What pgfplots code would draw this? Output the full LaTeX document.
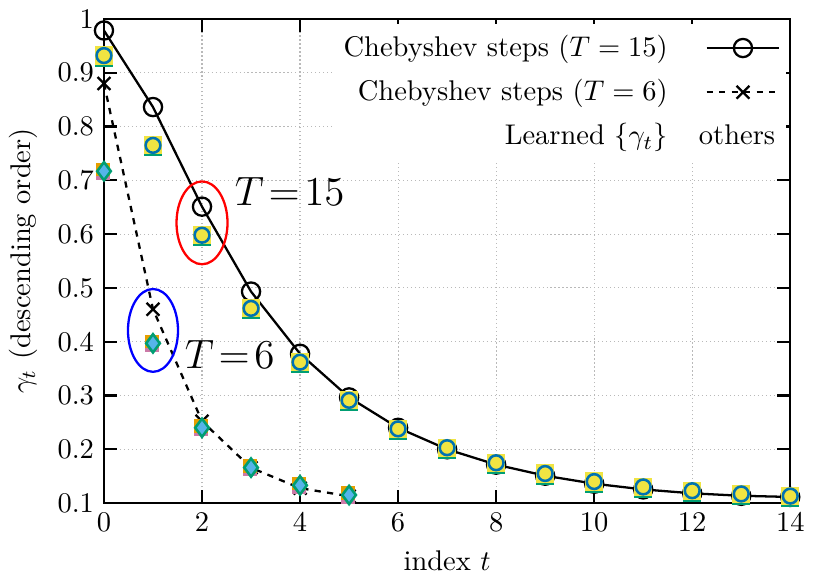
\documentclass[border=0pt]{standalone}
\usepackage{pgfplots}
\pgfplotsset{compat=1.18}
\definecolor{cyellow}{HTML}{F0E442}
\definecolor{cgreen}{HTML}{009E73}
\definecolor{cblue}{HTML}{0072B2}
\definecolor{csky}{HTML}{56B4E9}
\definecolor{corange}{HTML}{E69F00}
\definecolor{cpink}{HTML}{CC79A7}

\pgfplotstableread{
t g
0 0.97856
1 0.83628
2 0.65108
3 0.49324
4 0.37752
5 0.29647
6 0.23990
7 0.20000
8 0.17148
9 0.15090
10 0.13603
11 0.12543
12 0.11815
13 0.11358
14 0.11138
}\chebA
\pgfplotstableread{
t g
0 0.88005
1 0.46050
2 0.25222
3 0.16569
4 0.12774
5 0.11282
}\chebB
\pgfplotstableread{
t g
0 0.932
1 0.765
2 0.598
3 0.462
4 0.362
5 0.291
6 0.238
7 0.203
8 0.175
9 0.155
10 0.140
11 0.130
12 0.123
13 0.117
14 0.113
}\learnA
\pgfplotstableread{
t g
0 0.717
1 0.397
2 0.240
3 0.166
4 0.133
5 0.115
}\learnB

\begin{document}
\begin{tikzpicture}
\begin{axis}[
  scale only axis, width=241pt, height=170pt,
  xmin=0, xmax=14, ymin=0.1, ymax=1,
  xtick={0,2,4,6,8,10,12,14},
  ytick={0.1,0.2,0.3,0.4,0.5,0.6,0.7,0.8,0.9,1},
  yticklabels={0.1,0.2,0.3,0.4,0.5,0.6,0.7,0.8,0.9,1},
  grid=major,
  major grid style={densely dotted, gray!55, line width=0.4pt},
  axis line style={line width=0.8pt},
  tick style={line width=0.8pt, black},
  major tick length=4.5pt,
  xlabel={index $t$},
  ylabel={$\gamma_t$ (descending order)},
  legend cell align=right,
  legend plot pos=right,
  legend style={at={(1,1)}, anchor=north east, xshift=-1.2pt, yshift=-1.5pt,
    draw=none, fill=white, row sep=2.5pt, column sep=9pt, inner sep=2pt},
  legend image code/.code={\draw[mark repeat=2,mark phase=2]
    plot coordinates {(0cm,0cm) (0.45cm,0cm) (0.9cm,0cm)};},
]
\addplot[black, line width=0.8pt, mark=o, mark size=3.2pt, mark options={solid}]
  table[x=t, y=g] {\chebA};
\addlegendentry{Chebyshev steps ($T=15$)}
\addplot[black, line width=0.8pt, dash pattern=on 2.2pt off 2.2pt, mark=x, mark size=3.2pt, mark options={solid}]
  table[x=t, y=g] {\chebB};
\addlegendentry{Chebyshev steps ($T=6$)}
\addlegendimage{legend image code/.code={\node[anchor=west, inner sep=0pt] at (-0.1cm,0cm) {others};}}
\addlegendentry{Learned $\{\gamma_t\}$}

% learned, T=15
\addplot[only marks, mark=square*, mark size=3pt, mark options={draw=cgreen, fill=cgreen, yshift=-0.7pt}, forget plot]
  table[x=t, y=g] {\learnA};
\addplot[only marks, mark=square*, mark size=3pt, mark options={draw=cyellow, fill=cyellow}, forget plot]
  table[x=t, y=g] {\learnA};
\addplot[only marks, mark=*, mark size=2.6pt, mark options={draw=cblue, fill=cyellow, line width=0.9pt}, forget plot]
  table[x=t, y=g] {\learnA};
% learned, T=6
\addplot[only marks, mark=square*, mark size=2.2pt, mark options={draw=cpink, fill=cpink, xshift=-0.3pt, yshift=-0.6pt}, forget plot]
  table[x=t, y=g] {\learnB};
\addplot[only marks, mark=square*, mark size=2.2pt, mark options={draw=corange, fill=corange, xshift=-0.3pt, yshift=0.6pt}, forget plot]
  table[x=t, y=g] {\learnB};
\addplot[only marks, mark=diamond*, mark size=3.2pt, mark options={draw=cgreen, fill=csky, line width=0.9pt}, forget plot]
  table[x=t, y=g] {\learnB};

\draw[red, line width=0.8pt] (axis cs:2,0.621) ellipse [x radius=0.52, y radius=0.077];
\draw[blue, line width=0.8pt] (axis cs:1,0.421) ellipse [x radius=0.51, y radius=0.077];
\node[anchor=west, inner sep=0pt] at (axis cs:2.66,0.679) {\fontsize{13.5}{16}\selectfont $T\mskip2mu{=}\mskip2mu15$};
\node[anchor=west, inner sep=0pt] at (axis cs:1.64,0.377) {\fontsize{13.5}{16}\selectfont $T\mskip2mu{=}\mskip2mu6$};
\end{axis}
\end{tikzpicture}
\end{document}
